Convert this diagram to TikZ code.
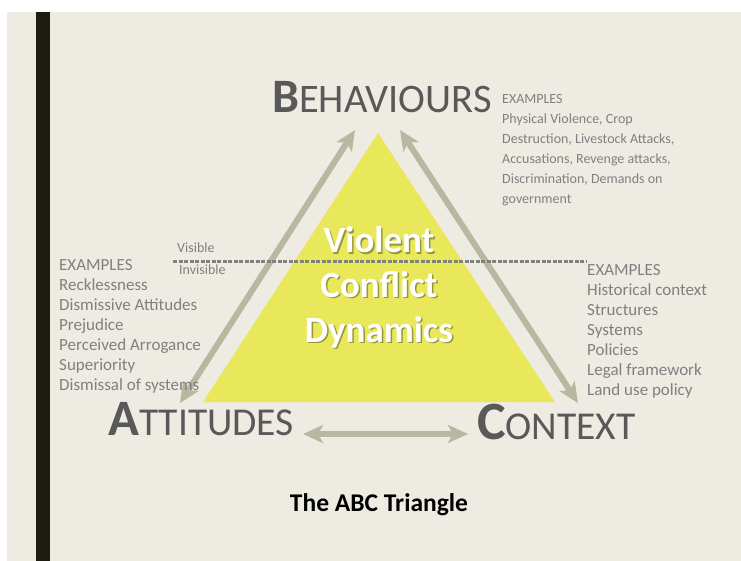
\documentclass[tikz,border=0pt]{standalone}
\usepackage{fontspec}
\setmainfont{Carlito}
\usetikzlibrary{arrows.meta}
\definecolor{paper}{HTML}{EEEBE3}
\definecolor{bar}{HTML}{1C1C10}
\definecolor{tri}{HTML}{E9E85A}
\definecolor{arrowc}{HTML}{B6B89F}
\definecolor{head}{HTML}{595959}
\definecolor{body}{HTML}{808080}
\tikzset{
  link/.style={draw=arrowc, line width=6pt, >={Stealth[length=20pt,width=18pt,inset=5pt]}, <->},
  title/.style={anchor=base west, inner sep=0pt, text=head},
  examples/.style={anchor=north west, inner sep=0pt, align=left, text=body, font=\fontsize{17}{20}\selectfont},
  core/.style={inner sep=0pt, anchor=base, font=\fontsize{37}{37}\selectfont\bfseries}
}
\begin{document}
\begin{tikzpicture}[x=1pt,y=-1pt]
\useasboundingbox (0,0) rectangle (741,561);
\def\triangle{(378,133) -- (555,402) -- (203,402) -- cycle}

\fill[white] (0,0) rectangle (741,561);
\fill[paper] (7,12) rectangle (741,561);
\fill[bar] (36,12) rectangle (50,561);
\fill[tri] \triangle;

% arrows
\coordinate (bl) at (355,130);
\coordinate (al) at (180,403);
\coordinate (br) at (400,130);
\coordinate (cr) at (578,403);
\coordinate (ar) at (303,434);
\coordinate (cl) at (468,434);
\draw[link] (bl) -- (al);
\draw[link] (br) -- (cr);
\draw[link] (ar) -- (cl);

% visible / invisible line
\coordinate (lineL) at (173,262);
\coordinate (lineR) at (586,262);
\draw[body, line width=3pt, dash pattern=on 4pt off 1.5pt] (lineL) -- (lineR);
\node[anchor=west, inner sep=0pt, text=body, font=\fontsize{14}{14}\selectfont] (vis) at (177,248) {Visible};
\node[anchor=west, inner sep=0pt, text=body, font=\fontsize{14}{14}\selectfont] (invis) at (179,270) {Invisible};

% corners
\node[title] (B) at (272,113) {{\fontsize{48}{48}\selectfont\bfseries B}{\fontsize{40.5}{40.5}\selectfont EHAVIOURS}};
\node[title] (A) at (108,435) {{\fontsize{51}{51}\selectfont\bfseries A}{\fontsize{39.5}{39.5}\selectfont TTITUDES}};
\node[title] (C) at (477,439) {{\fontsize{54}{54}\selectfont\bfseries C}{\fontsize{39.5}{39.5}\selectfont ONTEXT}};

\node[examples, font=\fontsize{14}{20}\selectfont] (exB) at (502,94.5) {EXAMPLES\\Physical Violence, Crop\\Destruction, Livestock Attacks,\\Accusations, Revenge attacks,\\Discrimination, Demands on\\government};
\node[examples] (exA) at (59,259.5) {EXAMPLES\\Recklessness\\Dismissive Attitudes\\Prejudice\\Perceived Arrogance\\Superiority\\Dismissal of systems};
\node[examples] (exC) at (587,264.5) {EXAMPLES\\Historical context\\Structures\\Systems\\Policies\\Legal framework\\Land use policy};

% centre text with shadow
\foreach \w/\y [count=\i] in {Violent/253,Conflict/297,Dynamics/342}{
  \node[core, text=black, opacity=0.35] (s\i) at (380.5,\y+1.5) {\w};
  \node[core, text=white] (w\i) at (379,\y) {\w};
}

\node[anchor=base, inner sep=0pt, font=\fontsize{25.5}{25.5}\selectfont\bfseries] (cap) at (379,511) {The ABC Triangle};
\end{tikzpicture}
\end{document}
